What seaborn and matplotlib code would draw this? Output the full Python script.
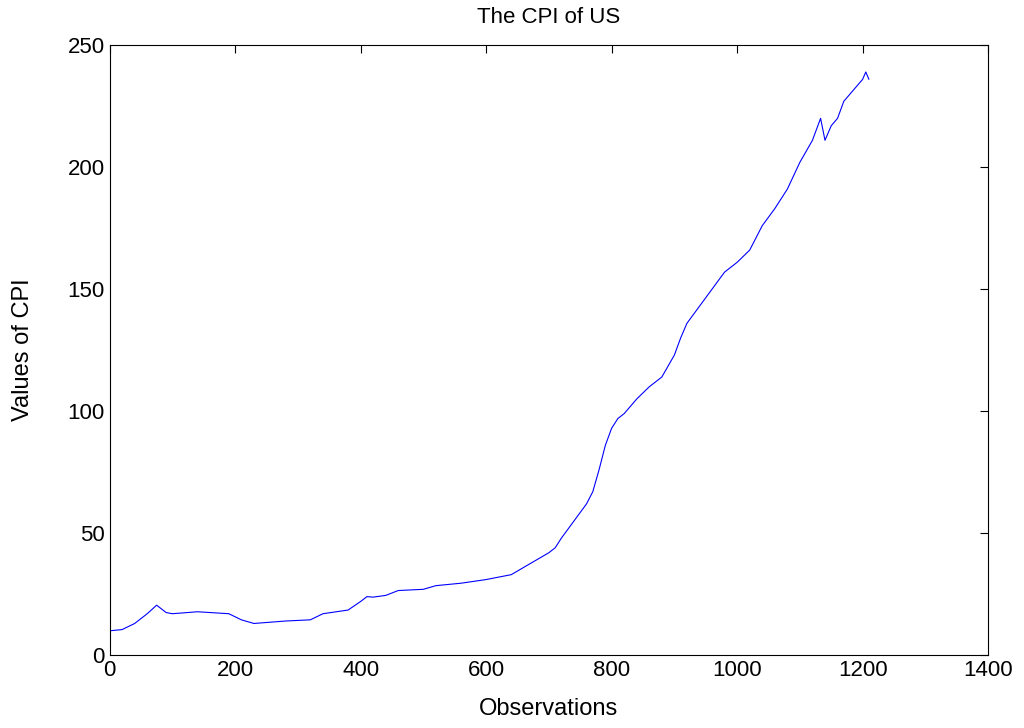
import seaborn as sns
import numpy as np
import matplotlib.pyplot as plt
import pandas as pd

# values
obs = [0, 20, 40, 60, 75, 90, 100, 140, 190, 210, 230, 280, 320, 340, 380, 400, 410, 420, 440,
       460, 500, 520, 560, 600, 640, 660, 680, 700, 710, 720, 740, 760, 770, 780, 790, 800, 810,
       820, 840, 860, 880, 900, 910, 920, 940, 960, 980, 1000, 1020, 1040, 1060, 1080, 1100,
       1120, 1133, 1140, 1150, 1160, 1170, 1180, 1190, 1200, 1205, 1210]
cpi = [10, 10.5, 13, 17, 20.5, 17.5, 17, 17.8, 17, 14.5, 13, 14, 14.5, 17, 18.5, 22, 24, 23.8, 24.5,
       26.5, 27, 28.5, 29.5, 31, 33, 36, 39, 42, 44, 48, 55, 62, 67, 76, 86, 93, 97,
       99, 105, 110, 114, 123, 130, 136, 143, 150, 157, 161, 166, 176, 183, 191, 202,
       211, 220, 211, 217, 220, 227, 230, 233, 236, 239, 236]

df = pd.DataFrame({"obs": obs, "cpi": cpi})

sns.set_style("white", {"text.color": "black", "axes.labelcolor": "black",
                        "xtick.color": "black", "ytick.color": "black"})
plt.rcParams['font.family'] = ['Liberation Sans', 'DejaVu Sans']

fig = plt.figure(figsize=(10.24, 7.28), dpi=100)
ax = fig.add_axes([0.107, 0.10, 0.858, 0.838])
sns.lineplot(data=df, x="obs", y="cpi", color="blue", linewidth=0.8, ax=ax)
ax.set_xlim(0, 1400)
ax.set_ylim(0, 250)
ax.set_xticks(range(0, 1401, 200))
ax.set_yticks(range(0, 251, 50))
ax.tick_params(direction="in", top=True, right=True, labelsize=16, length=6)
for s in ax.spines.values():
    s.set_color("black")
    s.set_linewidth(0.8)
ax.set_xlabel("Observations", fontsize=17, labelpad=12)
ax.set_ylabel("Values of CPI", fontsize=17, labelpad=24)
ax.set_title("The CPI of US", fontsize=16, pad=16)
fig.savefig("out.png", dpi=100)
